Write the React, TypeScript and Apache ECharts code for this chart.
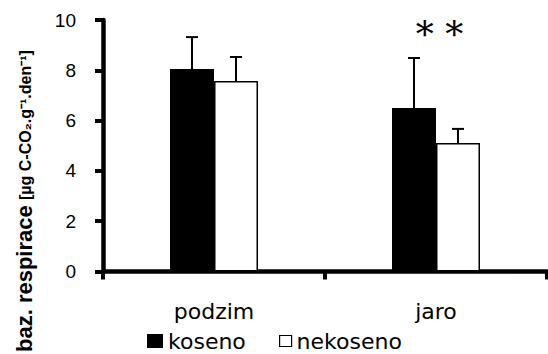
import React, { useEffect, useRef } from "react";
import * as echarts from "echarts";

const categories = ["podzim", "jaro"];
const kosenoValues = [8.05, 6.5];
const kosenoErr = [1.27, 1.99];
const nekosenoValues = [7.57, 5.11];
const nekosenoErr = [0.96, 0.56];
const yTicks = { min: 0, max: 10, interval: 2 };
const yTitleMain = "baz. respirace";
const yTitleUnit = "[µg C-CO₂.g⁻¹.den⁻¹]";
const significance = "* *";

const BAR_W = 44;

function errorSeries(name: string, values: number[], errs: number[], offset: number) {
  return {
    type: "custom",
    name,
    z: 5,
    data: values.map((v, i) => [i, v, errs[i]]),
    renderItem: (params: any, api: any) => {
      const idx = api.value(0);
      const v = api.value(1);
      const e = api.value(2);
      const base = api.coord([idx, v]);
      const top = api.coord([idx, v + e]);
      const cx = base[0] + offset;
      const st = { stroke: "#000", lineWidth: 2 };
      return {
        type: "group",
        children: [
          { type: "line", shape: { x1: cx, y1: base[1], x2: cx, y2: top[1] }, style: st },
          { type: "line", shape: { x1: cx - 6, y1: top[1], x2: cx + 6, y2: top[1] }, style: st },
        ],
      };
    },
  };
}

export default function App() {
  const ref = useRef<HTMLDivElement>(null);
  useEffect(() => {
    if (!ref.current) return;
    const chart = echarts.init(ref.current, null, { renderer: "svg" });
    chart.setOption({
      animation: false,
      backgroundColor: "#fff",
      grid: { left: 103, right: 1, top: 20, height: 251.5, outerBoundsMode: "none" },
      xAxis: {
        type: "category",
        data: categories,
        axisLine: { lineStyle: { color: "#000", width: 4.5 } },
        axisTick: { show: true, length: 8, lineStyle: { color: "#000", width: 4 } },
        axisLabel: { color: "#000", fontFamily: "DejaVu Sans", fontSize: 22, margin: 29 },
        splitLine: { show: false },
      },
      yAxis: {
        type: "value",
        min: yTicks.min,
        max: yTicks.max,
        interval: yTicks.interval,
        axisLine: { show: true, lineStyle: { color: "#000", width: 4.5 } },
        axisTick: { show: true, length: 8, lineStyle: { color: "#000", width: 4 } },
        axisLabel: { color: "#000", fontFamily: "Liberation Sans", fontSize: 19, margin: 27 },
        splitLine: { show: false },
      },
      legend: [
        {
          data: [{ name: "koseno", itemStyle: { color: "#000", borderWidth: 0 } }],
          left: 147,
          top: 330,
          padding: 0,
          itemWidth: 16,
          itemHeight: 14,
          icon: "rect",
          selectedMode: false,
          textStyle: { color: "#000", fontFamily: "DejaVu Sans", fontSize: 22 },
        },
        {
          data: [{ name: "nekoseno", itemStyle: { color: "#fff", borderColor: "#000", borderWidth: 1.2 } }],
          left: 279,
          top: 330,
          padding: 0,
          itemWidth: 12,
          itemHeight: 11,
          icon: "rect",
          selectedMode: false,
          textStyle: { color: "#000", fontFamily: "DejaVu Sans", fontSize: 22 },
        },
      ],
      series: [
        {
          type: "bar",
          name: "koseno",
          data: kosenoValues,
          barWidth: BAR_W,
          barGap: "0%",
          itemStyle: { color: "#000" },
        },
        {
          type: "bar",
          name: "nekoseno",
          data: nekosenoValues,
          barWidth: BAR_W,
          barGap: "0%",
          itemStyle: { color: "#fff", borderColor: "#000", borderWidth: 1.5 },
        },
        errorSeries("errK", kosenoValues, kosenoErr, -BAR_W / 2),
        errorSeries("errN", nekosenoValues, nekosenoErr, BAR_W / 2),
      ],
      graphic: [
        {
          type: "text",
          x: 35,
          y: 352,
          rotation: Math.PI / 2,
          style: {
            text: yTitleMain,
            font: "bold 22px 'Liberation Sans'",
            fill: "#000",
            textAlign: "left",
            textVerticalAlign: "bottom",
          },
        },
        {
          type: "text",
          x: 33,
          y: 200,
          rotation: Math.PI / 2,
          style: {
            text: yTitleUnit,
            font: "bold 16px 'Liberation Sans'",
            fill: "#000",
            textAlign: "left",
            textVerticalAlign: "bottom",
          },
        },
        {
          type: "text",
          x: 439.5,
          y: 34,
          style: {
            text: significance,
            font: "36px 'DejaVu Serif'",
            fill: "#000",
            textAlign: "center",
            textVerticalAlign: "middle",
          },
        },
      ],
    });
    return () => chart.dispose();
  }, []);
  return (
    <div
      ref={ref}
      style={{ position: "absolute", left: 0, top: 0, width: 548, height: 354 }}
    />
  );
}
